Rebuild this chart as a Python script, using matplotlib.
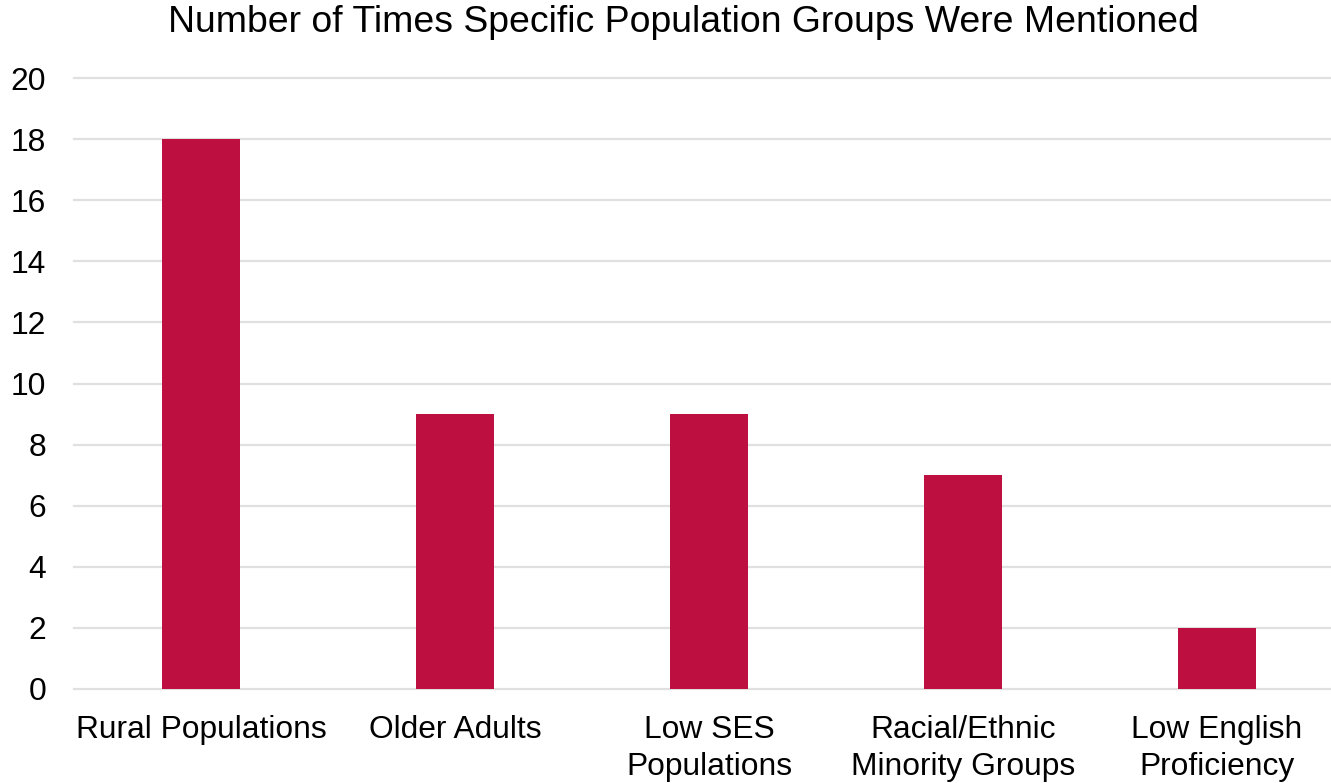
import matplotlib
matplotlib.use('Agg')
import matplotlib.pyplot as plt

plt.rcParams['font.family'] = ['Liberation Sans', 'DejaVu Sans']

# Mention counts per population group
groups = ['Rural Populations', 'Older Adults', 'Low SES\nPopulations',
          'Racial/Ethnic\nMinority Groups', 'Low English\nProficiency']
mentions = [18, 9, 9, 7, 2]
y_ticks = [0, 2, 4, 6, 8, 10, 12, 14, 16, 18, 20]

W, H = 1331, 783
fig = plt.figure(figsize=(W / 100, H / 100), dpi=100)
ax = fig.add_axes([74 / W, (H - 689) / H, (W - 74) / W, (689 - 78) / H])

x = range(len(groups))
ax.bar(x, mentions, width=0.311, color='#BE1040', zorder=3)

ax.set_xlim(-0.5, 4.5 - 13 / 254)
ax.set_ylim(0, 20)
ax.set_yticks(y_ticks)
ax.yaxis.grid(True, color='#E0E0E0', linewidth=1.6, zorder=0)
ax.set_axisbelow(True)
for gl in ax.get_ygridlines():
    gl.set_clip_on(False)

ax.set_xticks(list(x))
ax.set_xticklabels(groups, linespacing=1.27)
ax.tick_params(axis='both', length=0, labelsize=22.9, colors='black')
ax.tick_params(axis='y', pad=20)
ax.tick_params(axis='x', pad=19)
for s in ax.spines.values():
    s.set_visible(False)

fig.text(683 / W, 1 - 22 / H, 'Number of Times Specific Population Groups Were Mentioned',
         ha='center', va='center', fontsize=26.9)

fig.savefig('out.png', dpi=100)
